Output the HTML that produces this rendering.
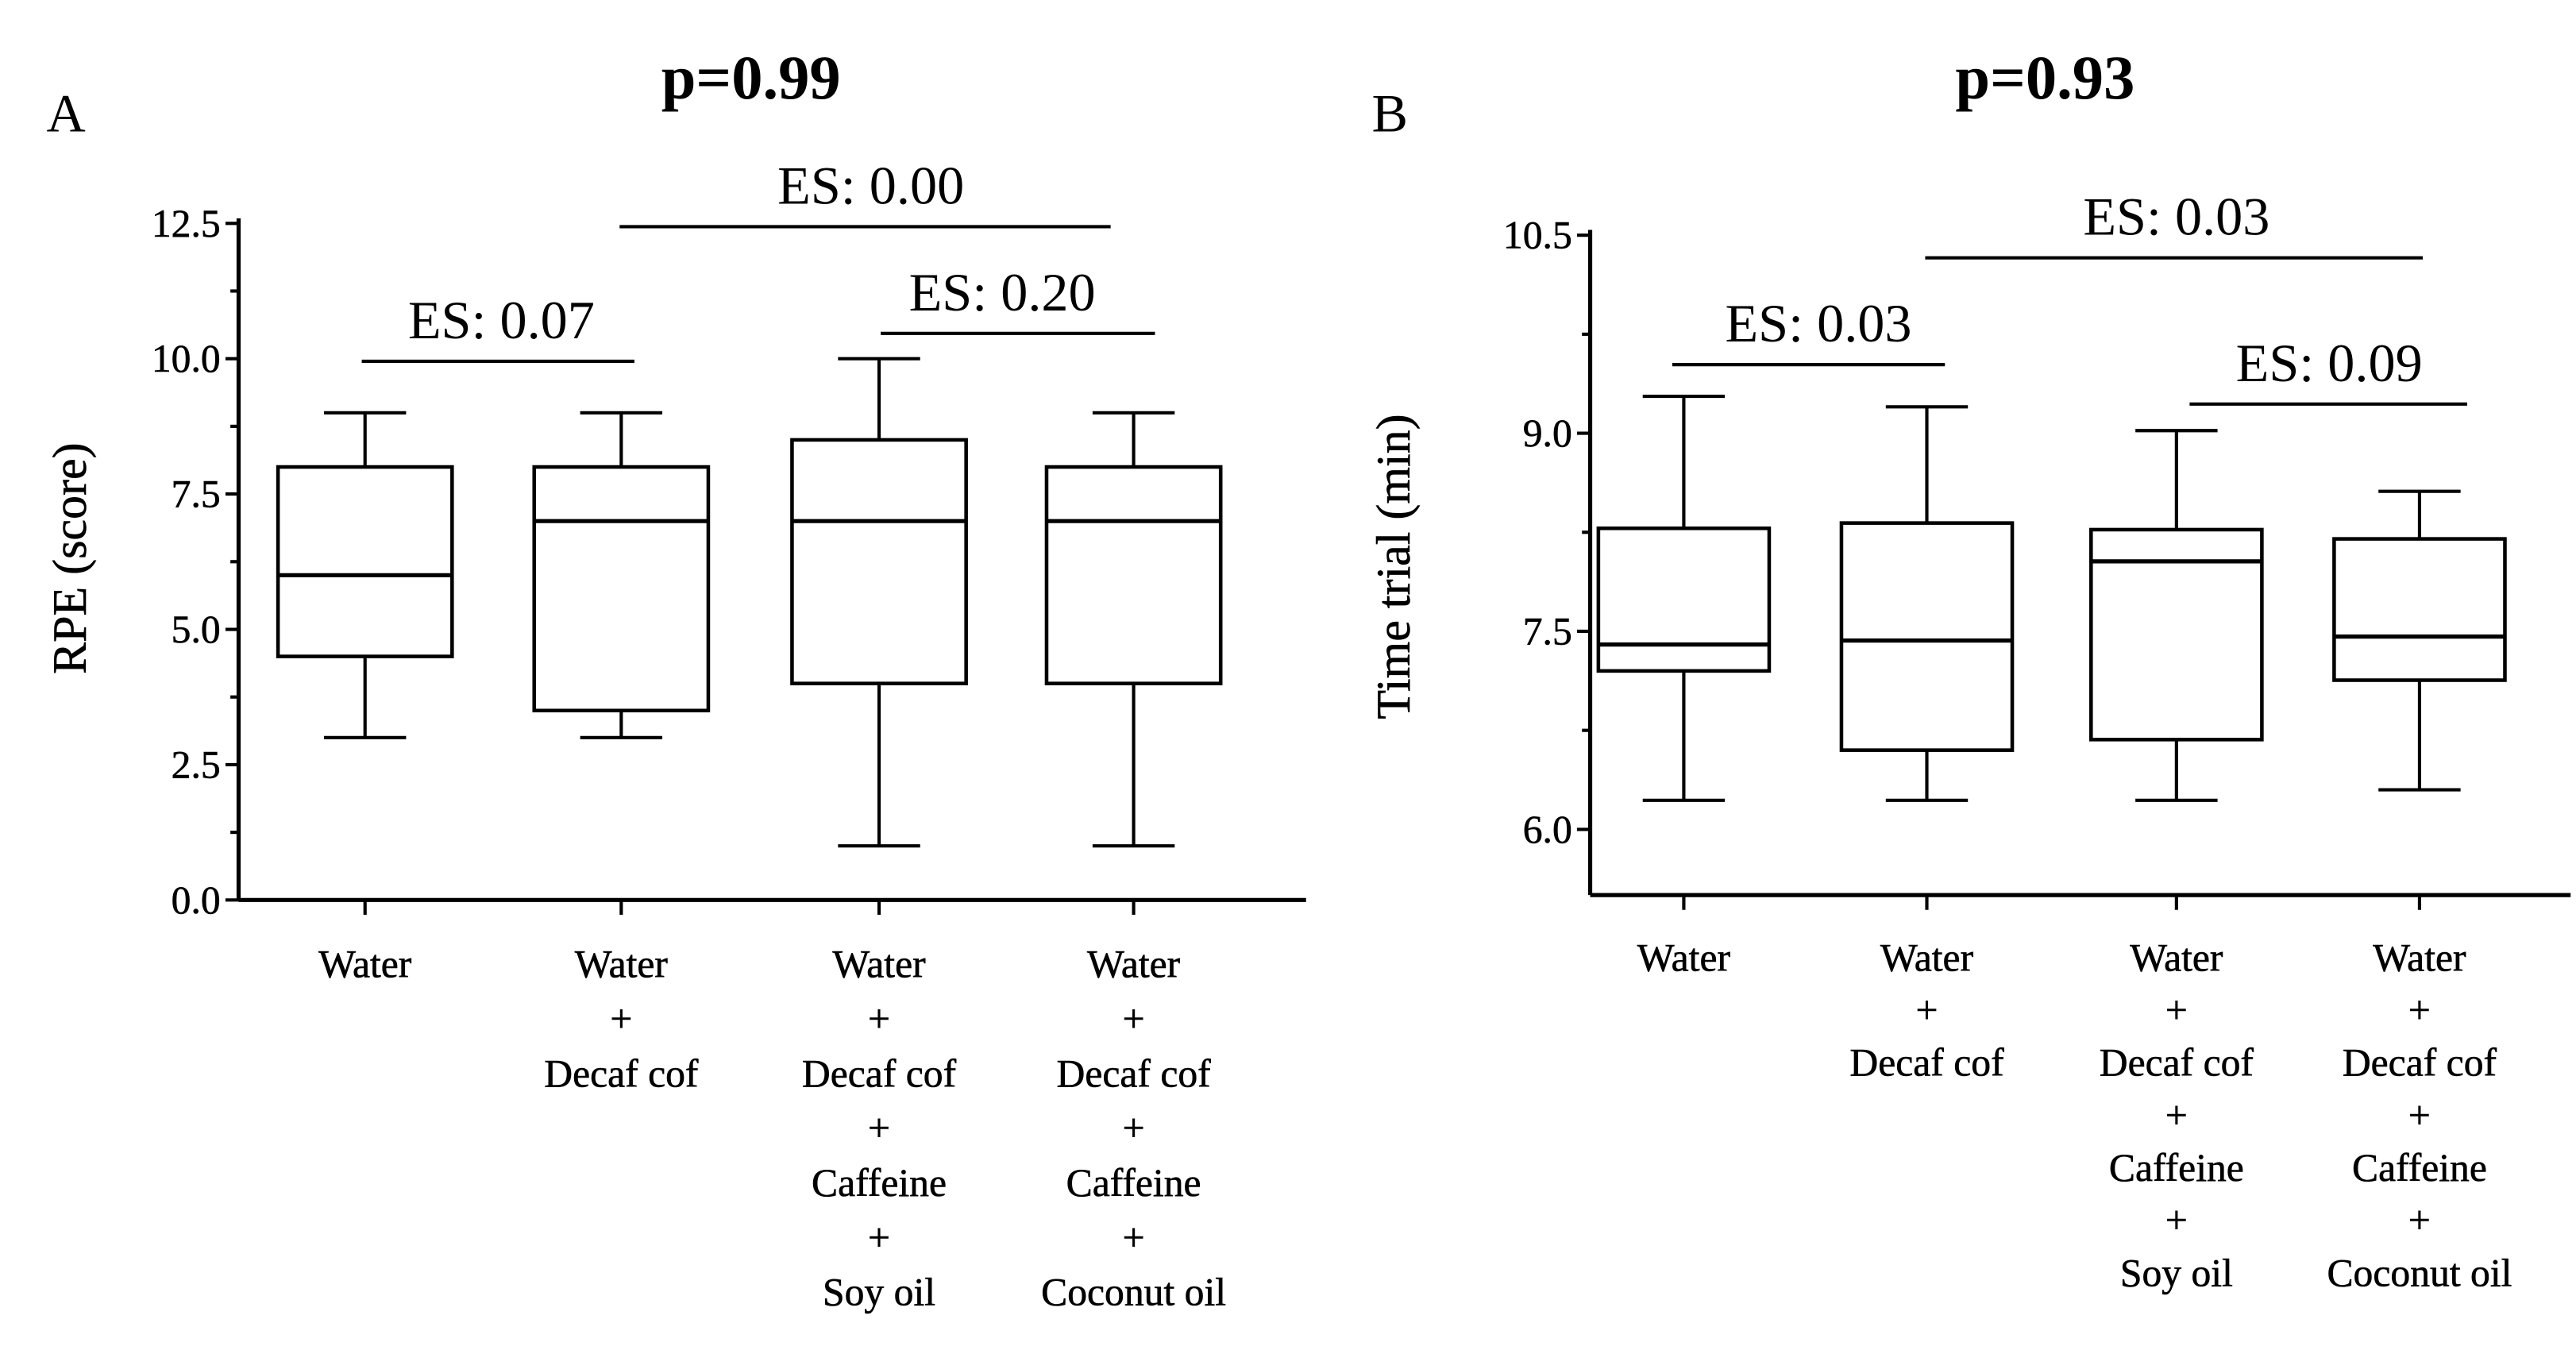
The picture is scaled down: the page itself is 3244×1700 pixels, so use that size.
<!DOCTYPE html>
<html><head><meta charset="utf-8"><style>
html,body{margin:0;padding:0;background:#fff}
svg{display:block}
text{font-family:"Liberation Serif",serif;fill:#000}
</style></head><body>
<svg id="fig" width="3244" height="1700" viewBox="0 0 1568 822" xmlns="http://www.w3.org/2000/svg">
<rect width="1568" height="822" fill="#fff"/>
</svg>
<script>
const categories=[["Water"],["Water","+","Decaf cof"],["Water","+","Decaf cof","+","Caffeine","+","Soy oil"],["Water","+","Decaf cof","+","Caffeine","+","Coconut oil"]];
const aMin=[3,3,1,1], aQ1=[4.5,3.5,4,4], aMed=[6,7,7,7], aQ3=[8,8,8.5,8], aMax=[9,9,10,9];
const aTicks=["0.0","2.5","5.0","7.5","10.0","12.5"], aTickVals=[0,2.5,5,7.5,10,12.5];
const bMin=[6.22,6.22,6.22,6.3], bQ1=[7.2,6.6,6.68,7.13], bMed=[7.4,7.43,8.03,7.46], bQ3=[8.28,8.32,8.27,8.2], bMax=[9.28,9.2,9.02,8.56];
const bTicks=["6.0","7.5","9.0","10.5"], bTickVals=[6,7.5,9,10.5];
const aES=["ES: 0.07","ES: 0.00","ES: 0.20"], bES=["ES: 0.03","ES: 0.03","ES: 0.09"];
const svg=document.getElementById('fig');
const NS="http://www.w3.org/2000/svg";
function mk(tag,attrs,txt){const e=document.createElementNS(NS,tag);for(const k in attrs)e.setAttribute(k,attrs[k]);if(txt!==undefined)e.textContent=txt;svg.appendChild(e);return e;}
function line(x1,y1,x2,y2,w,name){const e=mk('line',{x1,y1,x2,y2,stroke:'#000','stroke-width':w||2});

return e;}
function txt(x,y,s,size,name,opts){opts=opts||{};const e=mk('text',Object.assign({x,y,'font-size':size,'text-anchor':opts.anchor||'middle'},opts.extra||{}),s);

return e;}
function panel(P){
 const y=v=>P.y0-(v-P.v0)*P.ppu;
 line(P.ax,P.axTop,P.ax,P.axBot,2.5,'y-axis');
 line(P.ax,P.axBot,P.axRight,P.axBot,2.5,'x-axis');
 P.tickVals.forEach((v,i)=>{line(P.ax-8,y(v),P.ax,y(v),2,'y-tick');
  txt(P.ax-11,y(v)+8,P.ticks[i],24,'y-tick-label',{anchor:'end',extra:{'stroke':'#000','stroke-width':0.3}});
  if(i<P.tickVals.length-1){const m=(v+P.tickVals[i+1])/2;line(P.ax-5,y(m),P.ax,y(m),2,'y-minor-tick');}});
 txt(P.ytx,P.yty,P.ytitle,29,'y-axis-title',{extra:{transform:'rotate(-90 '+P.ytx+' '+P.yty+')','stroke':'#000','stroke-width':0.3}});
 P.cx.forEach((cx,i)=>{
  line(cx,P.axBot,cx,P.axBot+9,2,'x-tick');
  const hw=P.bw/2;
  line(cx,y(P.mx[i]),cx,y(P.q3[i]),2,'whisker-upper');
  line(cx,y(P.q1[i]),cx,y(P.mn[i]),2,'whisker-lower');
  line(cx-25,y(P.mx[i]),cx+25,y(P.mx[i]),2,'whisker-cap-max');
  line(cx-25,y(P.mn[i]),cx+25,y(P.mn[i]),2,'whisker-cap-min');
  const r=mk('rect',{x:cx-hw,y:y(P.q3[i]),width:P.bw,height:y(P.q1[i])-y(P.q3[i]),fill:'#fff',stroke:'#000','stroke-width':2.2});
  
  
  line(cx-hw,y(P.md[i]),cx+hw,y(P.md[i]),2.5,'median-line');
  categories[i].forEach((s,j)=>txt(cx,P.labY+j*P.labDy,s,24,'x-category-label',{extra:{'stroke':'#000','stroke-width':0.3}}));
 });
 P.br.forEach((b,i)=>{line(b[0],b[2],b[1],b[2],2,'es-bracket');txt(b[3],b[2]-14,P.es[i],33,'es-label');});
 txt(P.px,60,P.p,38,'p-value-title',{extra:{'font-weight':'bold'}});
 txt(P.lx,80,P.letter,33,'panel-letter',{anchor:'start'});
}
panel({y0:548,v0:0,ppu:32.96,ax:145,axTop:133,axBot:548,axRight:795,tickVals:aTickVals,ticks:aTicks,
 ytx:52,yty:340,ytitle:'RPE (score)',cx:[222,378,535,690],bw:106,mn:aMin,q1:aQ1,md:aMed,q3:aQ3,mx:aMax,
 labY:595,labDy:33.3,es:aES,br:[[220,386,220,305],[377,676,138,530],[536,703,203,610]],px:457,p:'p=0.99',lx:28,letter:'A'});
panel({y0:505,v0:6,ppu:80.4,ax:968,axTop:140,axBot:545,axRight:1565,tickVals:bTickVals,ticks:bTicks,
 ytx:858,yty:345,ytitle:'Time trial (min)',cx:[1025,1173,1325,1473],bw:104,mn:bMin,q1:bQ1,md:bMed,q3:bQ3,mx:bMax,
 labY:591,labDy:32,es:bES,br:[[1018,1184,222,1107],[1172,1475,157,1325],[1333,1502,246,1418]],px:1245,p:'p=0.93',lx:835,letter:'B'});
</script>
</body></html>
